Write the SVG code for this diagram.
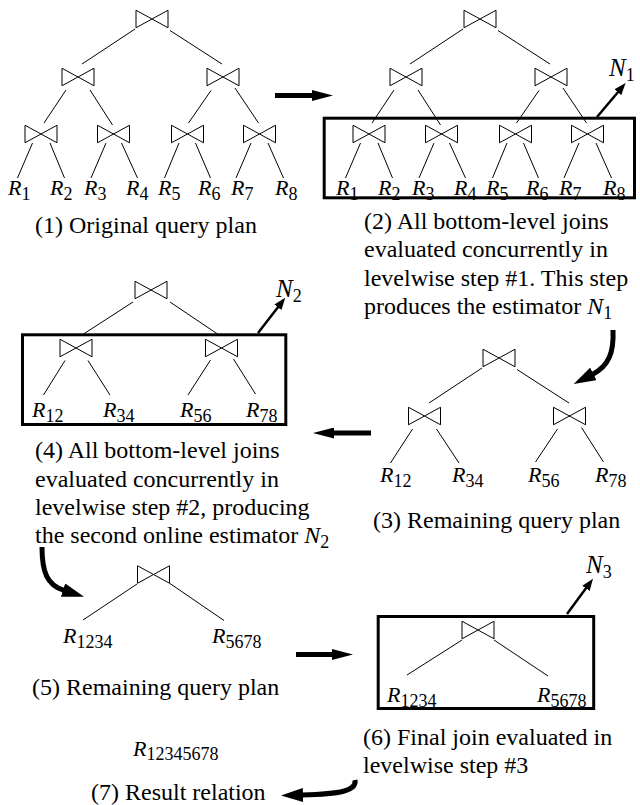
<svg xmlns="http://www.w3.org/2000/svg" xmlns:xlink="http://www.w3.org/1999/xlink" width="640" height="805" viewBox="0 0 640 805">
  <style>
    text { font-family: "Liberation Serif", "Times New Roman", serif; fill: #000; }
    .cap { font-size: 24px; }
    .rel { font-size: 22px; font-style: italic; }
    .est { font-size: 25px; font-style: italic; }
    .sub { font-size: 18px; font-style: normal; }
    .edge { stroke: #000; stroke-width: 1; fill: none; }
    .frame { stroke: #000; stroke-width: 3; fill: none; }
    .flow { stroke: #000; stroke-width: 5; fill: none; }
    .out { stroke: #000; stroke-width: 2.5; fill: none; }
  </style>
  <defs>
    <!-- join operator (bowtie) centred on the origin -->
    <path id="join" d="M-16,-8.75 L0,0 L-16,8.75 Z M16,-8.75 L0,0 L16,8.75 Z" fill="none" stroke="#000" stroke-width="1"/>
    <marker id="big" markerUnits="userSpaceOnUse" markerWidth="21" markerHeight="11" refX="1" refY="5.5" orient="auto">
      <path d="M0,0 L21,5.5 L0,11 Z" fill="#000"/>
    </marker>
    <marker id="curv" markerUnits="userSpaceOnUse" markerWidth="22" markerHeight="14" refX="1" refY="7" orient="auto">
      <path d="M0,0 L22,7 L0,14 Z" fill="#000"/>
    </marker>
    <marker id="small" markerUnits="userSpaceOnUse" markerWidth="12" markerHeight="9" refX="1" refY="4.5" orient="auto">
      <path d="M0,0 L12,4.5 L0,9 Z" fill="#000"/>
    </marker>
  </defs>

  <rect width="640" height="805" fill="#fff"/>

  <!-- connectors: plan edges, step arrows, estimator outputs -->
  <g id="connectors">
    <!-- plan 1 -->
    <g class="edge">
      <line x1="135" y1="29" x2="82" y2="64"/>
      <line x1="170" y1="30.5" x2="222" y2="64"/>
      <line x1="66" y1="90" x2="44" y2="123"/>
      <line x1="90" y1="90" x2="112.5" y2="125"/>
      <line x1="211" y1="90.5" x2="188.5" y2="123"/>
      <line x1="235" y1="88" x2="258.5" y2="123"/>
      <line x1="32.5" y1="143" x2="17.5" y2="178"/>
      <line x1="50" y1="143" x2="64.5" y2="178"/>
      <line x1="106" y1="143" x2="91" y2="178"/>
      <line x1="121.5" y1="143" x2="137.5" y2="178"/>
      <line x1="179" y1="143" x2="164.5" y2="178"/>
      <line x1="195.5" y1="143" x2="210.5" y2="178"/>
      <line x1="251" y1="143" x2="236" y2="178"/>
      <line x1="268" y1="143" x2="283.5" y2="178"/>
    </g>
    <!-- plan 2 -->
    <g class="edge" transform="translate(328,0)">
      <line x1="135" y1="29" x2="82" y2="64"/>
      <line x1="170" y1="30.5" x2="222" y2="64"/>
      <line x1="66" y1="90" x2="44" y2="123"/>
      <line x1="90" y1="90" x2="112.5" y2="125"/>
      <line x1="211" y1="90.5" x2="188.5" y2="123"/>
      <line x1="235" y1="88" x2="258.5" y2="123"/>
      <line x1="32.5" y1="143" x2="17.5" y2="178"/>
      <line x1="50" y1="143" x2="64.5" y2="178"/>
      <line x1="106" y1="143" x2="91" y2="178"/>
      <line x1="121.5" y1="143" x2="137.5" y2="178"/>
      <line x1="179" y1="143" x2="164.5" y2="178"/>
      <line x1="195.5" y1="143" x2="210.5" y2="178"/>
      <line x1="251" y1="143" x2="236" y2="178"/>
      <line x1="268" y1="143" x2="283.5" y2="178"/>
    </g>
    <!-- plan 3 -->
    <g class="edge">
      <line x1="482" y1="368" x2="429" y2="403"/>
      <line x1="517" y1="369.5" x2="569" y2="403"/>
      <line x1="412.5" y1="429" x2="390.5" y2="463"/>
      <line x1="436.5" y1="429" x2="459" y2="463"/>
      <line x1="557.5" y1="429" x2="535.5" y2="462"/>
      <line x1="581.5" y1="427.5" x2="603.5" y2="462"/>
    </g>
    <!-- plan 4 -->
    <g class="edge">
      <line x1="133" y1="302" x2="82" y2="335"/>
      <line x1="170" y1="302" x2="219" y2="335"/>
      <line x1="65" y1="360.5" x2="43.5" y2="395"/>
      <line x1="88" y1="360.5" x2="110" y2="395"/>
      <line x1="210.5" y1="360" x2="188" y2="395"/>
      <line x1="233.5" y1="359" x2="255.5" y2="394"/>
    </g>
    <!-- plan 5 -->
    <g class="edge">
      <line x1="137" y1="584" x2="83" y2="620"/>
      <line x1="170" y1="583.5" x2="224" y2="620.5"/>
    </g>
    <!-- plan 6 -->
    <g class="edge">
      <line x1="462" y1="640" x2="407" y2="675"/>
      <line x1="494" y1="640" x2="548" y2="676"/>
    </g>

    <!-- step arrows -->
    <line class="flow" x1="275" y1="95.5" x2="313" y2="95.5" marker-end="url(#big)"/>
    <path class="flow" d="M613,330 C614,352 609,366 592.4,374.4" marker-end="url(#curv)"/>
    <line class="flow" x1="371" y1="433" x2="333" y2="433" marker-end="url(#big)"/>
    <path class="flow" d="M42,547 C42,572 47,585 64,590.4" marker-end="url(#curv)"/>
    <line class="flow" x1="296" y1="654.5" x2="333" y2="654.5" marker-end="url(#big)"/>
    <path class="flow" d="M355,780 C357,791 340,794 302,795" marker-end="url(#curv)"/>

    <!-- estimator outputs -->
    <line class="out" x1="597" y1="117" x2="618.5" y2="91.5" marker-end="url(#small)"/>
    <line class="out" x1="258" y1="333" x2="278.5" y2="306.5" marker-end="url(#small)"/>
    <line class="out" x1="567" y1="614" x2="586.5" y2="587.5" marker-end="url(#small)"/>
  </g>

  <!-- plan 1: original query plan -->
  <g id="plan1">
    <g id="p1-root"><use xlink:href="#join" href="#join" x="152" y="19"/></g>
    <g id="p1-j12-34"><use xlink:href="#join" href="#join" x="78" y="77"/></g>
    <g id="p1-j56-78"><use xlink:href="#join" href="#join" x="223" y="77"/></g>
    <g id="p1-j12"><use xlink:href="#join" href="#join" x="41" y="134"/></g>
    <g id="p1-j34"><use xlink:href="#join" href="#join" x="113.5" y="134"/></g>
    <g id="p1-j56"><use xlink:href="#join" href="#join" x="187.5" y="134"/></g>
    <g id="p1-j78"><use xlink:href="#join" href="#join" x="259.5" y="134"/></g>
    <g id="p1-r1"><text class="rel" x="8" y="195">R<tspan class="sub" dy="5">1</tspan></text></g>
    <g id="p1-r2"><text class="rel" x="50" y="195">R<tspan class="sub" dy="5">2</tspan></text></g>
    <g id="p1-r3"><text class="rel" x="84" y="195">R<tspan class="sub" dy="5">3</tspan></text></g>
    <g id="p1-r4"><text class="rel" x="126" y="195">R<tspan class="sub" dy="5">4</tspan></text></g>
    <g id="p1-r5"><text class="rel" x="158" y="195">R<tspan class="sub" dy="5">5</tspan></text></g>
    <g id="p1-r6"><text class="rel" x="198" y="195">R<tspan class="sub" dy="5">6</tspan></text></g>
    <g id="p1-r7"><text class="rel" x="231" y="195">R<tspan class="sub" dy="5">7</tspan></text></g>
    <g id="p1-r8"><text class="rel" x="275" y="195">R<tspan class="sub" dy="5">8</tspan></text></g>
    <g id="caption1"><text class="cap" x="35" y="233">(1) Original query plan</text></g>
  </g>

  <!-- plan 2: bottom-level joins of step #1 framed -->
  <g id="plan2">
    <g id="p2-root"><use xlink:href="#join" href="#join" x="480" y="19"/></g>
    <g id="p2-j12-34"><use xlink:href="#join" href="#join" x="406" y="77"/></g>
    <g id="p2-j56-78"><use xlink:href="#join" href="#join" x="551" y="77"/></g>
    <g id="p2-step1">
      <rect class="frame" x="324.2" y="118.2" width="310.3" height="79.6"/>
      <use xlink:href="#join" href="#join" x="369" y="134"/>
      <use xlink:href="#join" href="#join" x="441.5" y="134"/>
      <use xlink:href="#join" href="#join" x="515.5" y="134"/>
      <use xlink:href="#join" href="#join" x="587.5" y="134"/>
    </g>
    <g id="p2-r1"><text class="rel" x="336" y="195">R<tspan class="sub" dy="5">1</tspan></text></g>
    <g id="p2-r2"><text class="rel" x="378" y="195">R<tspan class="sub" dy="5">2</tspan></text></g>
    <g id="p2-r3"><text class="rel" x="412" y="195">R<tspan class="sub" dy="5">3</tspan></text></g>
    <g id="p2-r4"><text class="rel" x="454" y="195">R<tspan class="sub" dy="5">4</tspan></text></g>
    <g id="p2-r5"><text class="rel" x="486" y="195">R<tspan class="sub" dy="5">5</tspan></text></g>
    <g id="p2-r6"><text class="rel" x="526" y="195">R<tspan class="sub" dy="5">6</tspan></text></g>
    <g id="p2-r7"><text class="rel" x="559" y="195">R<tspan class="sub" dy="5">7</tspan></text></g>
    <g id="p2-r8"><text class="rel" x="603" y="195">R<tspan class="sub" dy="5">8</tspan></text></g>
    <g id="p2-n1"><text class="est" x="609" y="76">N<tspan class="sub" dy="5">1</tspan></text></g>
    <g id="caption2">
      <text class="cap" x="364" y="229">(2) All bottom-level joins</text>
      <text class="cap" x="364" y="257.3">evaluated concurrently in</text>
      <text class="cap" x="364" y="285.6">levelwise step #1. This step</text>
      <text class="cap" x="364" y="314">produces the estimator <tspan font-style="italic">N</tspan><tspan class="sub" dy="5">1</tspan></text>
    </g>
  </g>

  <!-- plan 3: remaining query plan -->
  <g id="plan3">
    <g id="p3-root"><use xlink:href="#join" href="#join" x="499" y="358"/></g>
    <g id="p3-j12-34"><use xlink:href="#join" href="#join" x="424.5" y="416"/></g>
    <g id="p3-j56-78"><use xlink:href="#join" href="#join" x="569.5" y="416"/></g>
    <g id="p3-r12"><text class="rel" x="380" y="482">R<tspan class="sub" dy="5">12</tspan></text></g>
    <g id="p3-r34"><text class="rel" x="452" y="482">R<tspan class="sub" dy="5">34</tspan></text></g>
    <g id="p3-r56"><text class="rel" x="528" y="482">R<tspan class="sub" dy="5">56</tspan></text></g>
    <g id="p3-r78"><text class="rel" x="595" y="482">R<tspan class="sub" dy="5">78</tspan></text></g>
    <g id="caption3"><text class="cap" x="373" y="528">(3) Remaining query plan</text></g>
  </g>

  <!-- plan 4: bottom-level joins of step #2 framed -->
  <g id="plan4">
    <g id="p4-root"><use xlink:href="#join" href="#join" x="151" y="290"/></g>
    <g id="p4-step2">
      <rect class="frame" x="22.5" y="334.8" width="263.3" height="89.7"/>
      <use xlink:href="#join" href="#join" x="76" y="348"/>
      <use xlink:href="#join" href="#join" x="221.5" y="348"/>
    </g>
    <g id="p4-r12"><text class="rel" x="32" y="417">R<tspan class="sub" dy="5">12</tspan></text></g>
    <g id="p4-r34"><text class="rel" x="103" y="417">R<tspan class="sub" dy="5">34</tspan></text></g>
    <g id="p4-r56"><text class="rel" x="180" y="417">R<tspan class="sub" dy="5">56</tspan></text></g>
    <g id="p4-r78"><text class="rel" x="246" y="417">R<tspan class="sub" dy="5">78</tspan></text></g>
    <g id="p4-n2"><text class="est" x="276" y="297">N<tspan class="sub" dy="5">2</tspan></text></g>
    <g id="caption4">
      <text class="cap" x="35" y="458">(4) All bottom-level joins</text>
      <text class="cap" x="35" y="486.5">evaluated concurrently in</text>
      <text class="cap" x="35" y="515">levelwise step #2, producing</text>
      <text class="cap" x="35" y="543">the second online estimator <tspan font-style="italic">N</tspan><tspan class="sub" dy="5">2</tspan></text>
    </g>
  </g>

  <!-- plan 5: remaining query plan -->
  <g id="plan5">
    <g id="p5-root"><use xlink:href="#join" href="#join" x="153.5" y="574.5"/></g>
    <g id="p5-r1234"><text class="rel" x="63" y="643">R<tspan class="sub" dy="5">1234</tspan></text></g>
    <g id="p5-r5678"><text class="rel" x="212" y="643">R<tspan class="sub" dy="5">5678</tspan></text></g>
    <g id="caption5"><text class="cap" x="32" y="695">(5) Remaining query plan</text></g>
  </g>

  <!-- plan 6: final join of step #3 framed -->
  <g id="plan6">
    <g id="p6-step3">
      <rect class="frame" x="378.2" y="616.5" width="215.5" height="92"/>
      <use xlink:href="#join" href="#join" x="478" y="630"/>
    </g>
    <g id="p6-r1234"><text class="rel" x="387" y="702">R<tspan class="sub" dy="5">1234</tspan></text></g>
    <g id="p6-r5678"><text class="rel" x="537" y="702">R<tspan class="sub" dy="5">5678</tspan></text></g>
    <g id="p6-n3"><text class="est" x="586" y="573">N<tspan class="sub" dy="5">3</tspan></text></g>
    <g id="caption6">
      <text class="cap" x="363" y="745">(6) Final join evaluated in</text>
      <text class="cap" x="363" y="773">levelwise step #3</text>
    </g>
  </g>

  <!-- result relation -->
  <g id="result">
    <g id="r-all"><text class="rel" x="133" y="756">R<tspan class="sub" dy="4">12345678</tspan></text></g>
    <g id="caption7"><text class="cap" x="91" y="800">(7) Result relation</text></g>
  </g>
</svg>
